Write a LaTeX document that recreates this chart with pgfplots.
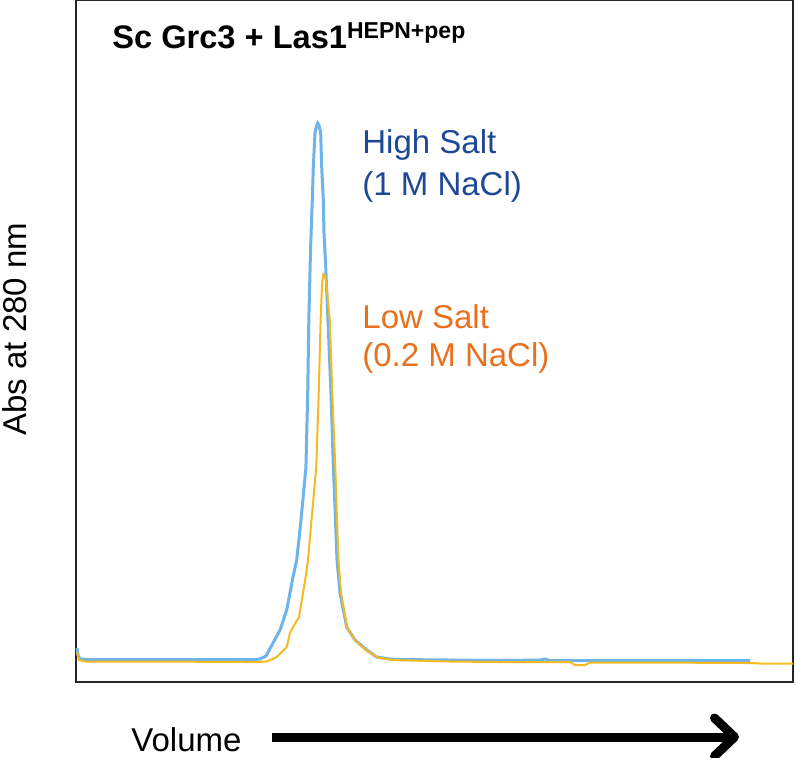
\documentclass[border=0pt]{standalone}
\usepackage{pgfplots}
\pgfplotsset{compat=1.18}
\usepackage{fontspec}
\setmainfont{Liberation Sans}
\usetikzlibrary{arrows.meta}
\definecolor{blueline}{RGB}{108,180,234}
\definecolor{yelline}{RGB}{246,186,32}
\definecolor{bluetext}{RGB}{30,72,150}
\definecolor{orangetext}{RGB}{232,112,30}
\begin{document}
\begin{tikzpicture}
\begin{axis}[
  at={(38pt,0pt)}, anchor=south west,
  scale only axis,
  width=358.5pt, height=341pt,
  xmin=76, xmax=793, ymin=0, ymax=682,
  y dir=reverse,
  xtick=\empty, ytick=\empty,
  axis line style={line width=0.8pt, black!85},
  clip=false,
]
\addplot[blueline, line width=1.5pt] coordinates {
(77,648) (78,655) (80,659) (90,659.5) (150,659.5) (200,659.5) (240,659.5)
(255,659.5) (260,659) (266,656) (273,643) (280,630) (286.7,610) (293,577)
(296.7,560) (301,520) (305.9,467.6) (307.7,394) (308.8,320.6) (310.6,247)
(312.3,200) (313.3,167) (315,133) (316.5,126) (317.7,123) (319,125) (320.7,133)
(321.7,167) (323.3,200) (324,233) (325.7,267) (328,320.6)
(331,394) (333.4,467.6) (335.5,520) (337,560) (340,593) (346.7,627) (355,640)
(366.7,650) (376.7,657) (390,659) (400,659.5) (450,660) (500,660.5) (540,660) (545,659)
(550,660.5) (600,660.5) (700,660.5) (750,660.5)
};
\addplot[yelline, line width=1pt] coordinates {
(77,652) (79,660) (85,661.5) (150,661.5) (250,662) (255,662) (266.7,661.5)
(276.7,657) (286.7,647) (290,633) (293,627) (299,617) (303,593) (305.5,578)
(308,560) (311.5,520) (316.2,467.6) (318.7,394)
(320.6,320.6) (321.8,290) (322.6,279) (323.5,274) (324.6,275) (326,281) (327.5,295)
(329.8,320.6)
(332.3,394) (335.3,467.6) (337,520) (338.5,560) (341,593) (347,627) (355.5,641)
(367,651) (378,657.5) (392,660) (410,660.5) (450,661.5) (500,662) (570,662)
(575,665) (585,665) (590,662.5) (650,662.5) (750,663) (760,663.5) (793,663.5)
};
\node[anchor=base west, font=\fontsize{16.3}{19}\selectfont\bfseries, inner sep=0pt] at (axis cs:112,48) {Sc Grc3 + Las1\raisebox{5pt}{\fontsize{11.5}{12}\selectfont HEPN+pep}};
\node[anchor=west, font=\fontsize{16.5}{20}\selectfont, text=bluetext, inner sep=0pt] at (axis cs:362,145) {High Salt};
\node[anchor=west, font=\fontsize{16.5}{20}\selectfont, text=bluetext, inner sep=0pt] at (axis cs:362,187) {(1 M NaCl)};
\node[anchor=west, font=\fontsize{16.5}{20}\selectfont, text=orangetext, inner sep=0pt] at (axis cs:362,317) {Low Salt};
\node[anchor=west, font=\fontsize{16.5}{20}\selectfont, text=orangetext, inner sep=0pt] at (axis cs:362,358) {(0.2 M NaCl)};
\node[rotate=90, font=\fontsize{16.5}{20}\selectfont, inner sep=0pt] at (axis cs:15,329) {Abs at 280 nm};
\node[anchor=west, font=\fontsize{16.5}{20}\selectfont, inner sep=0pt] at (axis cs:131,740) {Volume};
\draw[line width=4.5pt, -{Straight Barb[length=10pt,width=19pt,line width=4.5pt,round]}] (axis cs:272,737) -- (axis cs:739,737);
\coordinate (bbA) at (axis cs:0,0);
\coordinate (bbB) at (axis cs:796,757);
\end{axis}
\pgfresetboundingbox
\path[use as bounding box] (bbA) rectangle (bbB);
\end{tikzpicture}
\end{document}
